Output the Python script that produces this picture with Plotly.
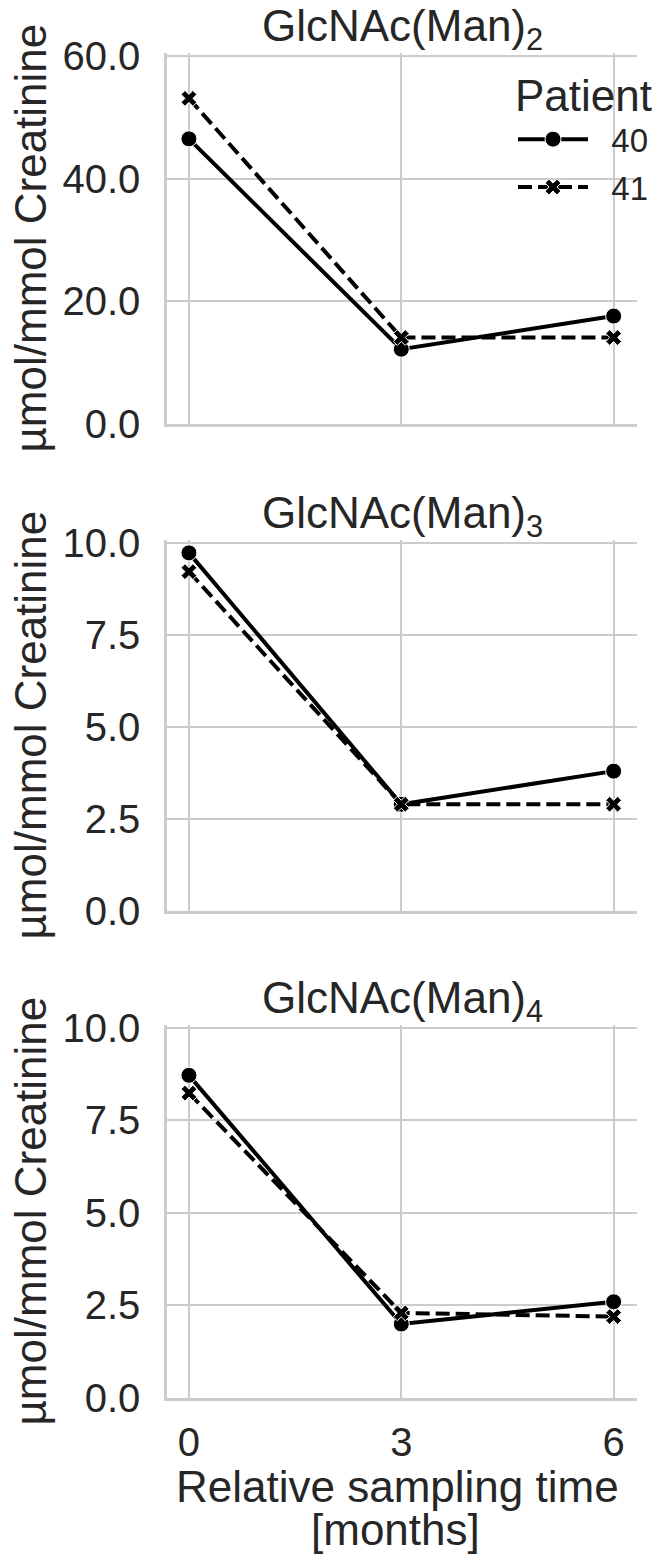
import plotly.graph_objects as go
from plotly.subplots import make_subplots

# ---- data ----
months = [0, 3, 6]
patients = ["40", "41"]
titles = ["GlcNAc(Man)<sub>2</sub>", "GlcNAc(Man)<sub>3</sub>", "GlcNAc(Man)<sub>4</sub>"]
man2_p40 = [46.5, 12.2, 17.6]
man2_p41 = [53.1, 14.1, 14.1]
man3_p40 = [9.73, 2.9, 3.8]
man3_p41 = [9.22, 2.9, 2.9]
man4_p40 = [8.72, 2.0, 2.6]
man4_p41 = [8.24, 2.3, 2.2]
y_ticks = [[0, 20, 40, 60], [0, 2.5, 5, 7.5, 10], [0, 2.5, 5, 7.5, 10]]
y_max = [60.5, 10.08, 10.08]
x_ticks = [0, 3, 6]
y_label = "µmol/mmol Creatinine"
x_label_1 = "Relative sampling time"
x_label_2 = "[months]"

panels = [(man2_p40, man2_p41), (man3_p40, man3_p41), (man4_p40, man4_p41)]

W, H = 669, 1554
L, R = 167, 32
PW = W - L - R
FONT = "Arial, Liberation Sans, Helvetica, sans-serif"
TXT = "#262626"
GRID = "#cccccc"

# pixel extents of each panel (top, bottom)
pix = [(53, 424), (540, 911), (1025, 1398)]

fig = make_subplots(rows=3, cols=1)

styles = [
    dict(dash="solid", symbol="circle", size=16),
    dict(dash="14px,6px", symbol="x", size=14),
]

NBSP = "\u00a0"
for i, (s40, s41) in enumerate(panels):
    for j, (pid, vals) in enumerate(zip(patients, (s40, s41))):
        st = styles[j]
        fig.add_trace(
            go.Scatter(
                x=months, y=vals, mode="lines+markers", name=NBSP * 2 + pid,
                line=dict(color="black", width=4, dash=st["dash"]),
                marker=dict(symbol=st["symbol"], size=st["size"], color="black",
                            line=dict(color="white", width=1)),
                showlegend=(i == 0), legendgroup=pid,
            ),
            row=i + 1, col=1,
        )

for i in range(3):
    top, bot = pix[i]
    dom = [1 - bot / H, 1 - top / H]
    fig.update_yaxes(
        row=i + 1, col=1, domain=dom, range=[0, y_max[i]], tickvals=y_ticks[i],
        tickformat=".1f", showgrid=True, gridcolor=GRID, gridwidth=2,
        showline=True, linecolor=GRID, linewidth=2.5, zeroline=False,
        ticks="", ticklabelstandoff=16, automargin=False,
        tickfont=dict(family=FONT, size=40, color=TXT),
    )
    fig.update_xaxes(
        row=i + 1, col=1, range=[-0.31, 6.33], tickvals=x_ticks,
        showgrid=True, gridcolor=GRID, gridwidth=2,
        showline=True, linecolor=GRID, linewidth=2.5, zeroline=False,
        ticks="", ticklabelstandoff=7, showticklabels=(i == 2), automargin=False,
        tickfont=dict(family=FONT, size=40, color=TXT),
    )
    # panel title
    fig.add_annotation(
        text=titles[i], xref="paper", yref="paper", x=(402 - L) / PW,
        y=1 - (top - 24) / H, xanchor="center", yanchor="middle", showarrow=False,
        font=dict(family=FONT, size=44, color=TXT),
    )
    # y-axis label
    fig.add_annotation(
        text=y_label, xref="paper", yref="paper", x=(30 - L) / PW,
        y=1 - ((top + bot) / 2) / H, xanchor="center", yanchor="middle",
        textangle=-90, showarrow=False,
        font=dict(family=FONT, size=44, color=TXT),
    )

# x-axis label (two centred lines)
fig.add_annotation(
    text=x_label_1, xref="paper", yref="paper", x=(397 - L) / PW,
    y=1 - 1486 / H, xanchor="center", yanchor="middle", showarrow=False,
    font=dict(family=FONT, size=44, color=TXT),
)
fig.add_annotation(
    text=x_label_2, xref="paper", yref="paper", x=(395 - L) / PW,
    y=1 - 1529 / H, xanchor="center", yanchor="middle", showarrow=False,
    font=dict(family=FONT, size=44, color=TXT),
)

fig.update_layout(
    width=W, height=H, autosize=False,
    margin=dict(l=L, r=R, t=0, b=0, pad=0),
    paper_bgcolor="white", plot_bgcolor="white",
    showlegend=True,
    legend=dict(
        title=dict(text="Patient", font=dict(family=FONT, size=44, color=TXT)),
        font=dict(family=FONT, size=33, color=TXT),
        x=(513 - L) / PW, y=1 - 54 / H, xanchor="left", yanchor="top",
        bgcolor="rgba(0,0,0,0)", itemwidth=70, tracegroupgap=2,
        traceorder="grouped",
    ),
)

fig.write_html("out.html")
